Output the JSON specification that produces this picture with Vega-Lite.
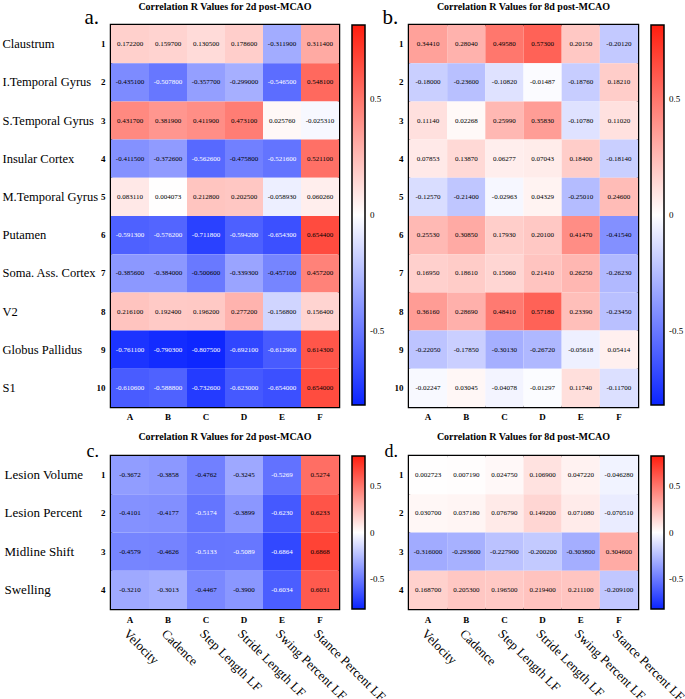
{
  "$schema": "https://vega.github.io/schema/vega-lite/v6.json",
  "padding": {"left": 0, "top": 0, "right": 0, "bottom": 0},
  "background": "white",
  "config": {
    "font": "Liberation Serif",
    "locale": {"number": {"decimal": ".", "thousands": ",", "grouping": [3], "currency": ["$", ""], "minus": "-"}},
    "view": {"stroke": "black", "strokeWidth": 2.5},
    "axis": {"domain": false, "ticks": false, "tickSize": 0, "grid": false, "labelFont": "Liberation Serif", "titleFont": "Liberation Serif", "labelColor": "black", "titleColor": "black"},
    "legend": {"labelFont": "Liberation Serif", "labelColor": "black"},
    "title": {"font": "Liberation Serif", "color": "black"}
  },
  "datasets": {
    "a": [
      {"row": 1, "col": "A", "r": 0.1722}, {"row": 1, "col": "B", "r": 0.1597}, {"row": 1, "col": "C", "r": 0.1305}, {"row": 1, "col": "D", "r": 0.1786}, {"row": 1, "col": "E", "r": -0.3119}, {"row": 1, "col": "F", "r": 0.3114},
      {"row": 2, "col": "A", "r": -0.4351}, {"row": 2, "col": "B", "r": -0.5078}, {"row": 2, "col": "C", "r": -0.3577}, {"row": 2, "col": "D", "r": -0.299}, {"row": 2, "col": "E", "r": -0.5465}, {"row": 2, "col": "F", "r": 0.5481},
      {"row": 3, "col": "A", "r": 0.4317}, {"row": 3, "col": "B", "r": 0.3819}, {"row": 3, "col": "C", "r": 0.4119}, {"row": 3, "col": "D", "r": 0.4731}, {"row": 3, "col": "E", "r": 0.02576}, {"row": 3, "col": "F", "r": -0.02531},
      {"row": 4, "col": "A", "r": -0.4115}, {"row": 4, "col": "B", "r": -0.3726}, {"row": 4, "col": "C", "r": -0.5626}, {"row": 4, "col": "D", "r": -0.4758}, {"row": 4, "col": "E", "r": -0.5216}, {"row": 4, "col": "F", "r": 0.5211},
      {"row": 5, "col": "A", "r": 0.08311}, {"row": 5, "col": "B", "r": 0.004073}, {"row": 5, "col": "C", "r": 0.2128}, {"row": 5, "col": "D", "r": 0.2025}, {"row": 5, "col": "E", "r": -0.05893}, {"row": 5, "col": "F", "r": 0.06026},
      {"row": 6, "col": "A", "r": -0.5913}, {"row": 6, "col": "B", "r": -0.5762}, {"row": 6, "col": "C", "r": -0.7118}, {"row": 6, "col": "D", "r": -0.5942}, {"row": 6, "col": "E", "r": -0.6543}, {"row": 6, "col": "F", "r": 0.6544},
      {"row": 7, "col": "A", "r": -0.3856}, {"row": 7, "col": "B", "r": -0.384}, {"row": 7, "col": "C", "r": -0.5006}, {"row": 7, "col": "D", "r": -0.3393}, {"row": 7, "col": "E", "r": -0.4571}, {"row": 7, "col": "F", "r": 0.4572},
      {"row": 8, "col": "A", "r": 0.2161}, {"row": 8, "col": "B", "r": 0.1924}, {"row": 8, "col": "C", "r": 0.1962}, {"row": 8, "col": "D", "r": 0.2772}, {"row": 8, "col": "E", "r": -0.1568}, {"row": 8, "col": "F", "r": 0.1564},
      {"row": 9, "col": "A", "r": -0.7611}, {"row": 9, "col": "B", "r": -0.7903}, {"row": 9, "col": "C", "r": -0.8075}, {"row": 9, "col": "D", "r": -0.6921}, {"row": 9, "col": "E", "r": -0.6129}, {"row": 9, "col": "F", "r": 0.6143},
      {"row": 10, "col": "A", "r": -0.6106}, {"row": 10, "col": "B", "r": -0.5888}, {"row": 10, "col": "C", "r": -0.7326}, {"row": 10, "col": "D", "r": -0.623}, {"row": 10, "col": "E", "r": -0.654}, {"row": 10, "col": "F", "r": 0.654}
    ],
    "b": [
      {"row": 1, "col": "A", "r": 0.3441}, {"row": 1, "col": "B", "r": 0.2804}, {"row": 1, "col": "C", "r": 0.4958}, {"row": 1, "col": "D", "r": 0.573}, {"row": 1, "col": "E", "r": 0.2015}, {"row": 1, "col": "F", "r": -0.2012},
      {"row": 2, "col": "A", "r": -0.18}, {"row": 2, "col": "B", "r": -0.236}, {"row": 2, "col": "C", "r": -0.1082}, {"row": 2, "col": "D", "r": -0.01487}, {"row": 2, "col": "E", "r": -0.1876}, {"row": 2, "col": "F", "r": 0.1821},
      {"row": 3, "col": "A", "r": 0.1114}, {"row": 3, "col": "B", "r": 0.02268}, {"row": 3, "col": "C", "r": 0.2599}, {"row": 3, "col": "D", "r": 0.3583}, {"row": 3, "col": "E", "r": -0.1078}, {"row": 3, "col": "F", "r": 0.1102},
      {"row": 4, "col": "A", "r": 0.07853}, {"row": 4, "col": "B", "r": 0.1387}, {"row": 4, "col": "C", "r": 0.06277}, {"row": 4, "col": "D", "r": 0.07043}, {"row": 4, "col": "E", "r": 0.184}, {"row": 4, "col": "F", "r": -0.1814},
      {"row": 5, "col": "A", "r": -0.1257}, {"row": 5, "col": "B", "r": -0.214}, {"row": 5, "col": "C", "r": -0.02963}, {"row": 5, "col": "D", "r": 0.04329}, {"row": 5, "col": "E", "r": -0.2501}, {"row": 5, "col": "F", "r": 0.246},
      {"row": 6, "col": "A", "r": 0.2553}, {"row": 6, "col": "B", "r": 0.3085}, {"row": 6, "col": "C", "r": 0.1793}, {"row": 6, "col": "D", "r": 0.201}, {"row": 6, "col": "E", "r": 0.4147}, {"row": 6, "col": "F", "r": -0.4154},
      {"row": 7, "col": "A", "r": 0.1695}, {"row": 7, "col": "B", "r": 0.1861}, {"row": 7, "col": "C", "r": 0.1506}, {"row": 7, "col": "D", "r": 0.2141}, {"row": 7, "col": "E", "r": 0.2625}, {"row": 7, "col": "F", "r": -0.2623},
      {"row": 8, "col": "A", "r": 0.3616}, {"row": 8, "col": "B", "r": 0.2869}, {"row": 8, "col": "C", "r": 0.4841}, {"row": 8, "col": "D", "r": 0.5718}, {"row": 8, "col": "E", "r": 0.2339}, {"row": 8, "col": "F", "r": -0.2345},
      {"row": 9, "col": "A", "r": -0.2205}, {"row": 9, "col": "B", "r": -0.1785}, {"row": 9, "col": "C", "r": -0.3013}, {"row": 9, "col": "D", "r": -0.2672}, {"row": 9, "col": "E", "r": -0.05618}, {"row": 9, "col": "F", "r": 0.05414},
      {"row": 10, "col": "A", "r": -0.02247}, {"row": 10, "col": "B", "r": 0.03045}, {"row": 10, "col": "C", "r": -0.04078}, {"row": 10, "col": "D", "r": -0.01297}, {"row": 10, "col": "E", "r": 0.1174}, {"row": 10, "col": "F", "r": -0.117}
    ],
    "c": [
      {"row": 1, "col": "A", "r": -0.3672}, {"row": 1, "col": "B", "r": -0.3858}, {"row": 1, "col": "C", "r": -0.4762}, {"row": 1, "col": "D", "r": -0.3245}, {"row": 1, "col": "E", "r": -0.5269}, {"row": 1, "col": "F", "r": 0.5274},
      {"row": 2, "col": "A", "r": -0.4101}, {"row": 2, "col": "B", "r": -0.4177}, {"row": 2, "col": "C", "r": -0.5174}, {"row": 2, "col": "D", "r": -0.3899}, {"row": 2, "col": "E", "r": -0.623}, {"row": 2, "col": "F", "r": 0.6233},
      {"row": 3, "col": "A", "r": -0.4579}, {"row": 3, "col": "B", "r": -0.4626}, {"row": 3, "col": "C", "r": -0.5133}, {"row": 3, "col": "D", "r": -0.5089}, {"row": 3, "col": "E", "r": -0.6864}, {"row": 3, "col": "F", "r": 0.6868},
      {"row": 4, "col": "A", "r": -0.321}, {"row": 4, "col": "B", "r": -0.3013}, {"row": 4, "col": "C", "r": -0.4467}, {"row": 4, "col": "D", "r": -0.39}, {"row": 4, "col": "E", "r": -0.6034}, {"row": 4, "col": "F", "r": 0.6031}
    ],
    "d": [
      {"row": 1, "col": "A", "r": 0.002723}, {"row": 1, "col": "B", "r": 0.00719}, {"row": 1, "col": "C", "r": 0.02475}, {"row": 1, "col": "D", "r": 0.1069}, {"row": 1, "col": "E", "r": 0.04722}, {"row": 1, "col": "F", "r": -0.04628},
      {"row": 2, "col": "A", "r": 0.0307}, {"row": 2, "col": "B", "r": 0.03718}, {"row": 2, "col": "C", "r": 0.07679}, {"row": 2, "col": "D", "r": 0.1492}, {"row": 2, "col": "E", "r": 0.07108}, {"row": 2, "col": "F", "r": -0.07051},
      {"row": 3, "col": "A", "r": -0.316}, {"row": 3, "col": "B", "r": -0.2936}, {"row": 3, "col": "C", "r": -0.2279}, {"row": 3, "col": "D", "r": -0.2002}, {"row": 3, "col": "E", "r": -0.3038}, {"row": 3, "col": "F", "r": 0.3046},
      {"row": 4, "col": "A", "r": 0.1687}, {"row": 4, "col": "B", "r": 0.2053}, {"row": 4, "col": "C", "r": 0.1965}, {"row": 4, "col": "D", "r": 0.2194}, {"row": 4, "col": "E", "r": 0.2111}, {"row": 4, "col": "F", "r": -0.2091}
    ]
  },
  "columns": 2,
  "bounds": "flush",
  "spacing": {"row": 49, "column": 70},
  "resolve": {"scale": {"color": "independent"}},
  "concat": [
    {
      "data": {"name": "a"},
      "width": 228, "height": 382,
      "title": {"text": "Correlation R Values for 2d post-MCAO", "fontSize": 10, "fontWeight": "bold", "anchor": "middle", "frame": "group", "offset": -6},
      "layer": [
        {
          "mark": {"type": "rect"},
          "encoding": {
            "x": {"field": "col", "type": "nominal", "scale": {"type": "band", "paddingInner": 0, "paddingOuter": 0}, "axis": {"title": null, "labelAngle": 0, "labelFontWeight": "bold", "labelFontSize": 9, "labelPadding": 5}},
            "y": {"field": "row", "type": "ordinal", "scale": {"type": "band", "paddingInner": 0, "paddingOuter": 0}, "axis": {"labelFontWeight": "bold", "labelFontSize": 9, "labelPadding": 6, "title": "a.", "titleAngle": 0, "titleFontSize": 21, "titleFontWeight": "normal", "titleX": -27, "titleY": -2, "titleAlign": "left", "titleBaseline": "alphabetic"}},
            "color": {"field": "r", "type": "quantitative", "scale": {"domain": [-0.82, 0, 0.82], "range": ["#0a24ff", "#ffffff", "#ff1e0e"], "interpolate": "rgb"}, "legend": {"title": null, "orient": "right", "offset": 13, "padding": 0, "direction": "vertical", "gradientLength": 380, "gradientThickness": 13, "values": [-0.5, 0, 0.5], "format": ".1~f", "labelFontSize": 9, "labelOffset": 5, "gradientStrokeColor": "black", "gradientStrokeWidth": 1.5}}
          }
        },
        {
          "mark": {"type": "text", "fontSize": 7, "font": "Liberation Serif"},
          "encoding": {
            "x": {"field": "col", "type": "nominal", "scale": {"type": "band", "paddingInner": 0, "paddingOuter": 0}, "axis": null},
            "y": {"field": "row", "type": "ordinal", "scale": {"type": "band", "paddingInner": 0, "paddingOuter": 0}, "axis": {"orient": "left", "title": null, "labelFontSize": 12.5, "labelAlign": "left", "labelPadding": 109, "labelExpr": "['Claustrum','I.Temporal Gyrus','S.Temporal Gyrus','Insular Cortex','M.Temporal Gyrus','Putamen','Soma. Ass. Cortex','V2','Globus Pallidus','S1'][datum.value - 1]"}},
            "text": {"field": "r", "type": "quantitative", "format": ".6f"},
            "color": {"condition": {"test": "datum.r < -0.505", "value": "white"}, "value": "black"}
          }
        }
      ],
      "resolve": {"axis": {"x": "independent", "y": "independent"}}
    },
    {
      "data": {"name": "b"},
      "width": 229, "height": 382,
      "title": {"text": "Correlation R Values for 8d post-MCAO", "fontSize": 10, "fontWeight": "bold", "anchor": "middle", "frame": "group", "offset": -6},
      "layer": [
        {
          "mark": {"type": "rect"},
          "encoding": {
            "x": {"field": "col", "type": "nominal", "scale": {"type": "band", "paddingInner": 0, "paddingOuter": 0}, "axis": {"title": null, "labelAngle": 0, "labelFontWeight": "bold", "labelFontSize": 9, "labelPadding": 5}},
            "y": {"field": "row", "type": "ordinal", "scale": {"type": "band", "paddingInner": 0, "paddingOuter": 0}, "axis": {"labelFontWeight": "bold", "labelFontSize": 9, "labelPadding": 6, "title": "b.", "titleAngle": 0, "titleFontSize": 21, "titleFontWeight": "normal", "titleX": -27, "titleY": -2, "titleAlign": "left", "titleBaseline": "alphabetic"}},
            "color": {"field": "r", "type": "quantitative", "scale": {"domain": [-0.82, 0, 0.82], "range": ["#0a24ff", "#ffffff", "#ff1e0e"], "interpolate": "rgb"}, "legend": {"title": null, "orient": "right", "offset": 13, "padding": 0, "direction": "vertical", "gradientLength": 380, "gradientThickness": 13, "values": [-0.5, 0, 0.5], "format": ".1~f", "labelFontSize": 9, "labelOffset": 5, "gradientStrokeColor": "black", "gradientStrokeWidth": 1.5}}
          }
        },
        {
          "mark": {"type": "text", "fontSize": 7, "font": "Liberation Serif"},
          "encoding": {
            "x": {"field": "col", "type": "nominal", "scale": {"type": "band", "paddingInner": 0, "paddingOuter": 0}, "axis": null},
            "y": {"field": "row", "type": "ordinal", "scale": {"type": "band", "paddingInner": 0, "paddingOuter": 0}, "axis": null},
            "text": {"field": "r", "type": "quantitative", "format": ".5f"},
            "color": {"condition": {"test": "datum.r < -0.505", "value": "white"}, "value": "black"}
          }
        }
      ],
      "resolve": {"axis": {"x": "independent", "y": "independent"}}
    },
    {
      "data": {"name": "c"},
      "width": 228, "height": 153,
      "title": {"text": "Correlation R Values for 2d post-MCAO", "fontSize": 10, "fontWeight": "bold", "anchor": "middle", "frame": "group", "offset": 0},
      "layer": [
        {
          "mark": {"type": "rect"},
          "encoding": {
            "x": {"field": "col", "type": "nominal", "scale": {"type": "band", "paddingInner": 0, "paddingOuter": 0}, "axis": {"title": null, "labelAngle": 0, "labelFontWeight": "bold", "labelFontSize": 9, "labelPadding": 6}},
            "y": {"field": "row", "type": "ordinal", "scale": {"type": "band", "paddingInner": 0, "paddingOuter": 0}, "axis": {"labelFontWeight": "bold", "labelFontSize": 9, "labelPadding": 6, "title": "c.", "titleAngle": 0, "titleFontSize": 18, "titleFontWeight": "normal", "titleX": -25, "titleY": 0, "titleAlign": "left", "titleBaseline": "alphabetic"}},
            "color": {"field": "r", "type": "quantitative", "scale": {"domain": [-0.82, 0, 0.82], "range": ["#0a24ff", "#ffffff", "#ff1e0e"], "interpolate": "rgb"}, "legend": {"title": null, "orient": "right", "offset": 13, "padding": 0, "direction": "vertical", "gradientLength": 153, "gradientThickness": 13, "values": [-0.5, 0, 0.5], "format": ".1~f", "labelFontSize": 9, "labelOffset": 5, "gradientStrokeColor": "black", "gradientStrokeWidth": 1.5}}
          }
        },
        {
          "mark": {"type": "text", "fontSize": 7, "font": "Liberation Serif"},
          "encoding": {
            "x": {"field": "col", "type": "nominal", "scale": {"type": "band", "paddingInner": 0, "paddingOuter": 0}, "axis": {"orient": "bottom", "title": null, "labelAngle": 45, "labelAlign": "left", "labelBaseline": "top", "labelFontSize": 13, "labelPadding": 18, "labelExpr": "['Velocity','Cadence','Step Length LF','Stride Length LF','Swing Percent LF','Stance Percent LF'][indexof('ABCDEF', datum.value)]"}},
            "y": {"field": "row", "type": "ordinal", "scale": {"type": "band", "paddingInner": 0, "paddingOuter": 0}, "axis": {"orient": "left", "title": null, "labelFontSize": 13, "labelAlign": "left", "labelPadding": 107, "labelExpr": "['Lesion Volume','Lesion Percent','Midline Shift','Swelling'][datum.value - 1]"}},
            "text": {"field": "r", "type": "quantitative", "format": ".4f"},
            "color": {"condition": {"test": "datum.r < -0.505", "value": "white"}, "value": "black"}
          }
        }
      ],
      "resolve": {"axis": {"x": "independent", "y": "independent"}}
    },
    {
      "data": {"name": "d"},
      "width": 229, "height": 153,
      "title": {"text": "Correlation R Values for 8d post-MCAO", "fontSize": 10, "fontWeight": "bold", "anchor": "middle", "frame": "group", "offset": 0},
      "layer": [
        {
          "mark": {"type": "rect"},
          "encoding": {
            "x": {"field": "col", "type": "nominal", "scale": {"type": "band", "paddingInner": 0, "paddingOuter": 0}, "axis": {"title": null, "labelAngle": 0, "labelFontWeight": "bold", "labelFontSize": 9, "labelPadding": 6}},
            "y": {"field": "row", "type": "ordinal", "scale": {"type": "band", "paddingInner": 0, "paddingOuter": 0}, "axis": {"labelFontWeight": "bold", "labelFontSize": 9, "labelPadding": 6, "title": "d.", "titleAngle": 0, "titleFontSize": 18, "titleFontWeight": "normal", "titleX": -25, "titleY": 0, "titleAlign": "left", "titleBaseline": "alphabetic"}},
            "color": {"field": "r", "type": "quantitative", "scale": {"domain": [-0.82, 0, 0.82], "range": ["#0a24ff", "#ffffff", "#ff1e0e"], "interpolate": "rgb"}, "legend": {"title": null, "orient": "right", "offset": 13, "padding": 0, "direction": "vertical", "gradientLength": 153, "gradientThickness": 13, "values": [-0.5, 0, 0.5], "format": ".1~f", "labelFontSize": 9, "labelOffset": 5, "gradientStrokeColor": "black", "gradientStrokeWidth": 1.5}}
          }
        },
        {
          "mark": {"type": "text", "fontSize": 7, "font": "Liberation Serif"},
          "encoding": {
            "x": {"field": "col", "type": "nominal", "scale": {"type": "band", "paddingInner": 0, "paddingOuter": 0}, "axis": {"orient": "bottom", "title": null, "labelAngle": 45, "labelAlign": "left", "labelBaseline": "top", "labelFontSize": 13, "labelPadding": 18, "labelExpr": "['Velocity','Cadence','Step Length LF','Stride Length LF','Swing Percent LF','Stance Percent LF'][indexof('ABCDEF', datum.value)]"}},
            "y": {"field": "row", "type": "ordinal", "scale": {"type": "band", "paddingInner": 0, "paddingOuter": 0}, "axis": null},
            "text": {"field": "r", "type": "quantitative", "format": ".6f"},
            "color": {"condition": {"test": "datum.r < -0.505", "value": "white"}, "value": "black"}
          }
        }
      ],
      "resolve": {"axis": {"x": "independent", "y": "independent"}}
    }
  ]
}
